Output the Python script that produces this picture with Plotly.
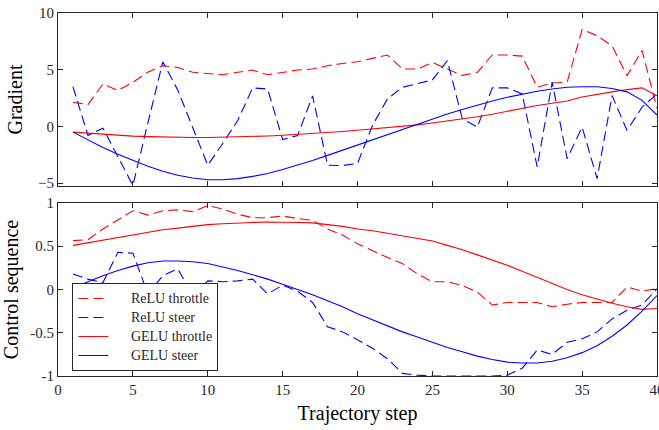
import plotly.graph_objects as go

steps = list(range(1, 41))

# Top panel: gradients
relu_throttle_grad = [2.13, 1.93, 3.74, 3.16, 3.9, 4.77, 5.35, 5.2, 4.77, 4.68,
                      4.56, 4.77, 4.97, 4.56, 4.77, 4.97, 5.06, 5.35, 5.55, 5.7,
                      6.0, 6.3, 5.06, 5.06, 5.64, 5.1, 4.5, 4.76, 6.3, 6.3,
                      6.2, 3.45, 3.83, 3.9, 8.55, 8.0, 7.1, 4.47, 6.7, 1.6]
relu_steer_grad = [3.5, -0.79, -0.15, -2.7, -5.2, 0.3, 5.7, 3.2, -0.2, -3.42,
                   -1.5, 0.53, 3.4, 3.3, -1.15, -0.8, 2.7, -3.42, -3.45, -3.27,
                   0.09, 2.43, 3.45, 3.8, 4.1, 5.8, 0.67, -0.06, 3.4, 3.4,
                   2.87, -3.57, 3.9, -2.84, -0.06, -4.6, 2.72, -0.35, 1.7, 2.87]
gelu_throttle_grad = [-0.5, -0.6, -0.7, -0.78, -0.85, -0.9, -0.94, -0.97, -0.98, -0.98,
                      -0.96, -0.93, -0.89, -0.84, -0.78, -0.71, -0.63, -0.54, -0.44, -0.33,
                      -0.22, -0.1, 0.02, 0.14, 0.3, 0.47, 0.66, 0.86, 1.08, 1.35,
                      1.6, 1.85, 2.05, 2.25, 2.6, 2.85, 3.05, 3.25, 3.4, 2.7]
gelu_steer_grad = [-0.5, -1.2, -1.85, -2.45, -3.0, -3.5, -3.95, -4.3, -4.55, -4.7,
                   -4.7, -4.6, -4.4, -4.15, -3.8, -3.42, -3.0, -2.55, -2.1, -1.65,
                   -1.2, -0.75, -0.3, 0.2, 0.67, 1.1, 1.5, 1.9, 2.25, 2.57,
                   2.85, 3.1, 3.3, 3.45, 3.5, 3.5, 3.35, 3.05, 2.3, 1.0]

# Bottom panel: control sequences
relu_throttle_ctrl = [0.565, 0.575, 0.7, 0.8, 0.91, 0.86, 0.91, 0.92, 0.9, 0.97,
                      0.93, 0.87, 0.83, 0.83, 0.85, 0.82, 0.8, 0.7, 0.63, 0.53,
                      0.45, 0.37, 0.3, 0.18, 0.09, 0.09, 0.046, -0.03, -0.18, -0.15,
                      -0.15, -0.15, -0.2, -0.17, -0.15, -0.15, -0.15, 0.03, -0.02, 0.01]
relu_steer_ctrl = [0.18, 0.12, 0.08, 0.43, 0.42, -0.05, 0.16, 0.24, -0.07, 0.1,
                   0.09, 0.1, 0.12, -0.05, 0.05, -0.02, -0.15, -0.43, -0.49, -0.58,
                   -0.68, -0.8, -0.97, -0.99, -1.0, -1.0, -1.0, -1.0, -1.0, -0.99,
                   -0.91, -0.7, -0.75, -0.61, -0.57, -0.49, -0.34, -0.24, -0.18, 0.01]
gelu_throttle_ctrl = [0.51, 0.54, 0.57, 0.6, 0.63, 0.66, 0.69, 0.71, 0.73, 0.75,
                      0.76, 0.77, 0.775, 0.78, 0.78, 0.775, 0.77, 0.75, 0.73, 0.7,
                      0.68, 0.65, 0.62, 0.59, 0.56, 0.51, 0.46, 0.4, 0.34, 0.28,
                      0.21, 0.14, 0.07, 0.0, -0.06, -0.11, -0.16, -0.2, -0.23, -0.22]
gelu_steer_ctrl = [0.02, 0.09, 0.16, 0.22, 0.27, 0.31, 0.33, 0.33, 0.32, 0.3,
                   0.26, 0.22, 0.17, 0.12, 0.06, 0.0, -0.06, -0.13, -0.2, -0.28,
                   -0.35, -0.42, -0.49, -0.55, -0.61, -0.67, -0.72, -0.77, -0.81, -0.84,
                   -0.85, -0.85, -0.83, -0.79, -0.73, -0.65, -0.54, -0.41, -0.25, -0.07]

x_ticks = [0, 5, 10, 15, 20, 25, 30, 35, 40]
top_y_ticks = [-5, 0, 5, 10]
bottom_y_ticks = [-1, -0.5, 0, 0.5, 1]
bottom_y_labels = ["-1", "-0.5", "0", "0.5", "1"]
series_names = ["ReLU throttle", "ReLU steer", "GELU throttle", "GELU steer"]

RED = "#FF0000"
BLUE = "#0000FF"
DASH = "10px,5px"
FONT = "Liberation Serif, Times New Roman, serif"
PAD = "\u00a0" * 5


def legend_label(name):
    return '<span style="font-size:14px">' + PAD + name + '</span>'


fig = go.Figure()

series = [
    (series_names[0], relu_throttle_grad, relu_throttle_ctrl, RED, DASH),
    (series_names[1], relu_steer_grad, relu_steer_ctrl, BLUE, DASH),
    (series_names[2], gelu_throttle_grad, gelu_throttle_ctrl, RED, "solid"),
    (series_names[3], gelu_steer_grad, gelu_steer_ctrl, BLUE, "solid"),
]

for name, g, c, col, dash in series:
    fig.add_trace(go.Scatter(x=steps, y=g, mode="lines", name=name, showlegend=False,
                             line=dict(color=col, width=1.1, dash=dash),
                             xaxis="x", yaxis="y"))
for name, g, c, col, dash in series:
    fig.add_trace(go.Scatter(x=steps, y=c, mode="lines", name=legend_label(name),
                             showlegend=True,
                             line=dict(color=col, width=1.1, dash=dash),
                             xaxis="x2", yaxis="y2"))

axis_common = dict(showline=True, mirror="ticks", linecolor="#262626", linewidth=1,
                   ticks="inside", ticklen=5, tickcolor="#262626", showgrid=False,
                   zeroline=False, automargin=False, ticklabeloverflow="allow",
                   tickfont=dict(size=15, color="#262626", family=FONT))

fig.update_layout(
    width=659, height=430,
    margin=dict(l=58, r=2, t=13, b=54),
    paper_bgcolor="white", plot_bgcolor="white",
    font=dict(family=FONT, color="black"),
    xaxis=dict(domain=[0, 1], range=[0, 40], tickvals=x_ticks, showticklabels=False,
               anchor="y", **axis_common),
    yaxis=dict(domain=[0.5234, 1], range=[-5.25, 10], tickvals=top_y_ticks,
               anchor="x", title=dict(text="Gradient", font=dict(size=20, family=FONT), standoff=10),
               **axis_common),
    xaxis2=dict(domain=[0, 1], range=[0, 40], tickvals=x_ticks, anchor="y2",
                title=dict(text="Trajectory step", font=dict(size=20, family=FONT), standoff=8),
                **axis_common),
    yaxis2=dict(domain=[0, 0.4766], range=[-1, 1], tickvals=bottom_y_ticks,
                ticktext=bottom_y_labels, anchor="x2",
                title=dict(text="Control sequence", font=dict(size=20, family=FONT), standoff=10),
                **axis_common),
    legend=dict(x=0.024, y=0.256, xanchor="left", yanchor="top",
                bgcolor="white", bordercolor="#262626", borderwidth=1,
                font=dict(size=12, family=FONT, color="#262626"),
                tracegroupgap=0, itemwidth=30),
)

fig.write_html("out.html", config={"displayModeBar": False},
               post_script="document.body.style.margin='0';")
